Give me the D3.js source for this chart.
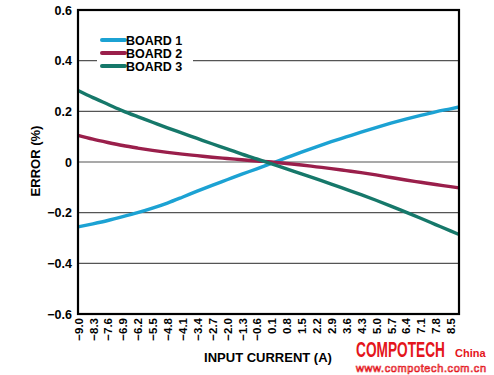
<!DOCTYPE html>
<html lang="en">
<head>
  <meta charset="UTF-8">
  <title>Board error</title>
  <style>
    body { margin: 0; background: #fff; }
    svg { display: block; font-family: "Liberation Sans", Arial, sans-serif; }
  </style>
</head>
<body>
  <script src="https://cdn.jsdelivr.net/npm/d3@7"></script>
  <script>
    // input current (A)
    let current = [-9.0, -8.3, -7.6, -6.9, -6.2, -5.5, -4.8, -4.1, -3.4, -2.7, -2.0, -1.3, -0.6,
      0.1, 0.8, 1.5, 2.2, 2.9, 3.6, 4.3, 5.0, 5.7, 6.4, 7.1, 7.8, 8.5, 8.9];
    // error (%) per board
    let board1 = [-0.256, -0.244, -0.231, -0.216, -0.200, -0.182, -0.162, -0.139, -0.115, -0.092, -0.070, -0.048, -0.027,
      -0.005, 0.017, 0.039, 0.060, 0.080, 0.099, 0.118, 0.136, 0.153, 0.169, 0.184, 0.198, 0.210, 0.217];
    let board2 = [0.105, 0.090, 0.077, 0.065, 0.055, 0.046, 0.038, 0.031, 0.025, 0.019, 0.014, 0.009, 0.004,
      0.000, -0.006, -0.012, -0.019, -0.026, -0.034, -0.042, -0.051, -0.061, -0.071, -0.080, -0.089, -0.097, -0.102];
    let board3 = [0.282, 0.254, 0.228, 0.202, 0.179, 0.157, 0.135, 0.114, 0.093, 0.072, 0.052, 0.031, 0.012,
      -0.007, -0.027, -0.047, -0.067, -0.087, -0.108, -0.129, -0.151, -0.174, -0.198, -0.222, -0.247, -0.272, -0.286];
    let names = ["BOARD 1", "BOARD 2", "BOARD 3"];
    let xTicks = [-9.0, -8.3, -7.6, -6.9, -6.2, -5.5, -4.8, -4.1, -3.4, -2.7, -2.0, -1.3, -0.6,
      0.1, 0.8, 1.5, 2.2, 2.9, 3.6, 4.3, 5.0, 5.7, 6.4, 7.1, 7.8, 8.5];
    let yTicks = [-0.6, -0.4, -0.2, 0, 0.2, 0.4, 0.6];

    let color = ["#1ca2d3", "#9a1f4b", "#16786a"];
    let width = 494, height = 375;
    let pLeft = 78, pRight = 459, pTop = 10, pBottom = 314;

    let svg = d3.select("body").append("svg")
      .attr("width", width)
      .attr("height", height);

    let x = d3.scaleLinear().domain([-9.0, 8.9]).range([pLeft, pRight]);
    let y = d3.scaleLinear().domain([-0.6, 0.6]).range([pBottom, pTop]);
    let dash = s => s.replace("-", "\u2013");

    // grid lines
    svg.append("g")
      .selectAll("line")
      .data(yTicks.filter(d => Math.abs(d) < 0.6))
      .enter()
      .append("line")
      .attr("x1", pLeft).attr("x2", pRight)
      .attr("y1", d => y(d)).attr("y2", d => y(d))
      .attr("stroke", "#555")
      .attr("stroke-width", 1.2);

    // y labels
    let yAxis = d3.axisLeft(y).tickValues(yTicks).tickSize(0).tickPadding(6)
      .tickFormat(d => d === 0 ? "0" : dash(d3.format(".1f")(d)));
    svg.append("g")
      .attr("transform", `translate(${pLeft},0)`)
      .call(yAxis)
      .call(g => g.select(".domain").remove())
      .selectAll("text")
      .attr("font-size", 12.5)
      .attr("font-weight", "bold")
      .attr("font-family", "Liberation Sans, Arial, sans-serif")
      .attr("fill", "#000");

    // x labels, rotated
    let xAxis = d3.axisBottom(x).tickValues(xTicks).tickSize(0)
      .tickFormat(d => dash(d3.format(".1f")(d)));
    let gx = svg.append("g")
      .attr("transform", `translate(0,${pBottom})`)
      .call(xAxis);
    gx.select(".domain").remove();
    gx.selectAll("text")
      .attr("transform", "rotate(-90)")
      .attr("text-anchor", "end")
      .attr("x", -4)
      .attr("y", 0)
      .attr("dy", "0.36em")
      .attr("font-size", 11.5)
      .attr("font-weight", "bold")
      .attr("font-family", "Liberation Sans, Arial, sans-serif")
      .attr("fill", "#000");

    // curves
    let series = [board1, board2, board3];
    let line = d3.line()
      .x((d, i) => x(current[i]))
      .y(d => y(d))
      .curve(d3.curveMonotoneX);
    svg.append("g")
      .selectAll("path")
      .data(series)
      .enter()
      .append("path")
      .attr("d", d => line(d))
      .attr("fill", "none")
      .attr("stroke", (d, i) => color[i])
      .attr("stroke-width", 3.4);

    // legend
    svg.append("rect")
      .attr("x", 97).attr("y", 32).attr("width", 96).attr("height", 40)
      .attr("fill", "#fff");
    let leg = svg.append("g")
      .selectAll("g")
      .data(names)
      .enter()
      .append("g")
      .attr("transform", (d, i) => `translate(102,${40 + i * 13})`);
    leg.append("line")
      .attr("x1", 0).attr("x2", 23)
      .attr("stroke", (d, i) => color[i])
      .attr("stroke-width", 4)
      .attr("stroke-linecap", "round");
    leg.append("text")
      .attr("x", 24)
      .attr("dy", "0.36em")
      .attr("font-size", 12.5)
      .attr("font-weight", "bold")
      .text(d => d);

    // frame
    svg.append("rect")
      .attr("x", pLeft).attr("y", pTop)
      .attr("width", pRight - pLeft).attr("height", pBottom - pTop)
      .attr("fill", "none")
      .attr("stroke", "#000")
      .attr("stroke-width", 2.2);

    // axis titles
    svg.append("text")
      .attr("x", 268).attr("y", 362)
      .attr("text-anchor", "middle")
      .attr("font-size", 13)
      .attr("font-weight", "bold")
      .text("INPUT CURRENT (A)");
    svg.append("text")
      .attr("transform", "translate(40,161) rotate(-90)")
      .attr("text-anchor", "middle")
      .attr("font-size", 13)
      .attr("font-weight", "bold")
      .text("ERROR (%)");

    // watermark
    svg.append("text")
      .attr("transform", "translate(356,357) scale(0.72,1.2)")
      .attr("font-size", 19)
      .attr("font-weight", "bold")
      .attr("fill", "#e4151b")
      .text("COMPOTECH");
    svg.append("text")
      .attr("x", 455).attr("y", 357)
      .attr("font-size", 11)
      .attr("font-weight", "bold")
      .attr("fill", "#e4151b")
      .text("China");
    svg.append("text")
      .attr("x", 356).attr("y", 372)
      .attr("font-size", 11)
      .attr("fill", "#fff")
      .attr("stroke", "#e4151b")
      .attr("stroke-width", 0.7)
      .attr("textLength", 130)
      .text("www.compotech.com.cn");
  </script>
</body>
</html>
